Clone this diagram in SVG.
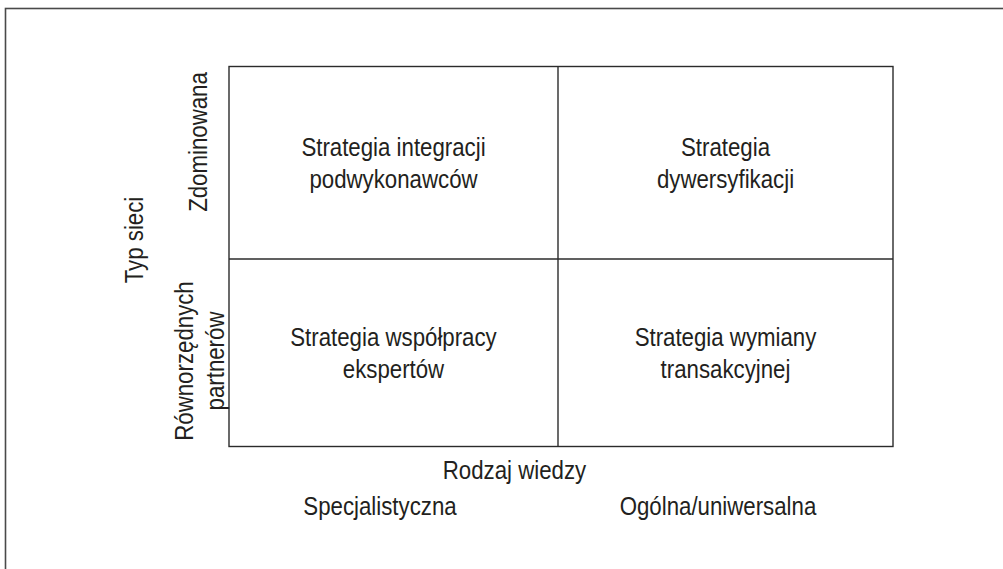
<svg xmlns="http://www.w3.org/2000/svg" width="1003" height="569" viewBox="0 0 1003 569">
  <style>
    .frame { fill: none; stroke: #4a4a4a; stroke-width: 1.6; }
    .grid { fill: none; stroke: #2b2b2b; stroke-width: 1.4; }
    .lbl { font-family: "Liberation Sans", Arial, sans-serif; font-size: 25px; fill: #231f20; text-anchor: middle; }
  </style>

  <rect width="1003" height="569" fill="#ffffff"/>
  <!-- outer frame, open towards the right and bottom edges -->
  <rect class="frame" x="5.5" y="8.5" width="1010" height="600"/>

  <!-- 2x2 matrix -->
  <g id="matrix">
    <rect class="grid" x="229" y="66.5" width="664" height="380"/>
    <line class="grid" x1="558" y1="66.5" x2="558" y2="446.5"/>
    <line class="grid" x1="229" y1="259" x2="893" y2="259"/>
  </g>

  <g id="cell-integracja">
    <g transform="translate(393.5 155.7) scale(0.89 1)">
      <text class="lbl" x="0" y="0">Strategia integracji</text>
      <text class="lbl" x="0" y="32">podwykonawców</text>
    </g>
  </g>

  <g id="cell-dywersyfikacja">
    <g transform="translate(725.5 155.7) scale(0.89 1)">
      <text class="lbl" x="0" y="0">Strategia</text>
      <text class="lbl" x="0" y="32">dywersyfikacji</text>
    </g>
  </g>

  <g id="cell-wspolpraca">
    <g transform="translate(393.5 346) scale(0.89 1)">
      <text class="lbl" x="0" y="0">Strategia współpracy</text>
      <text class="lbl" x="0" y="32">ekspertów</text>
    </g>
  </g>

  <g id="cell-wymiana">
    <g transform="translate(725.5 346) scale(0.89 1)">
      <text class="lbl" x="0" y="0">Strategia wymiany</text>
      <text class="lbl" x="0" y="32">transakcyjnej</text>
    </g>
  </g>

  <!-- horizontal axis -->
  <g id="axis-x">
    <g transform="translate(514.5 478.5) scale(0.89 1)">
      <text class="lbl" x="0" y="0">Rodzaj wiedzy</text>
    </g>
    <g transform="translate(380 514.5) scale(0.89 1)">
      <text class="lbl" x="0" y="0">Specjalistyczna</text>
    </g>
    <g transform="translate(718 514.5) scale(0.89 1)">
      <text class="lbl" x="0" y="0">Ogólna/uniwersalna</text>
    </g>
  </g>

  <!-- vertical axis -->
  <g id="axis-y">
    <g transform="translate(143 240) rotate(-90) scale(0.89 1)">
      <text class="lbl" x="0" y="0">Typ sieci</text>
    </g>
    <g transform="translate(206.5 142) rotate(-90) scale(0.89 1)">
      <text class="lbl" x="0" y="0">Zdominowana</text>
    </g>
    <g transform="translate(192.5 361) rotate(-90) scale(0.89 1)">
      <text class="lbl" x="0" y="0">Równorzędnych</text>
      <text class="lbl" x="0" y="32">partnerów</text>
    </g>
  </g>
</svg>
